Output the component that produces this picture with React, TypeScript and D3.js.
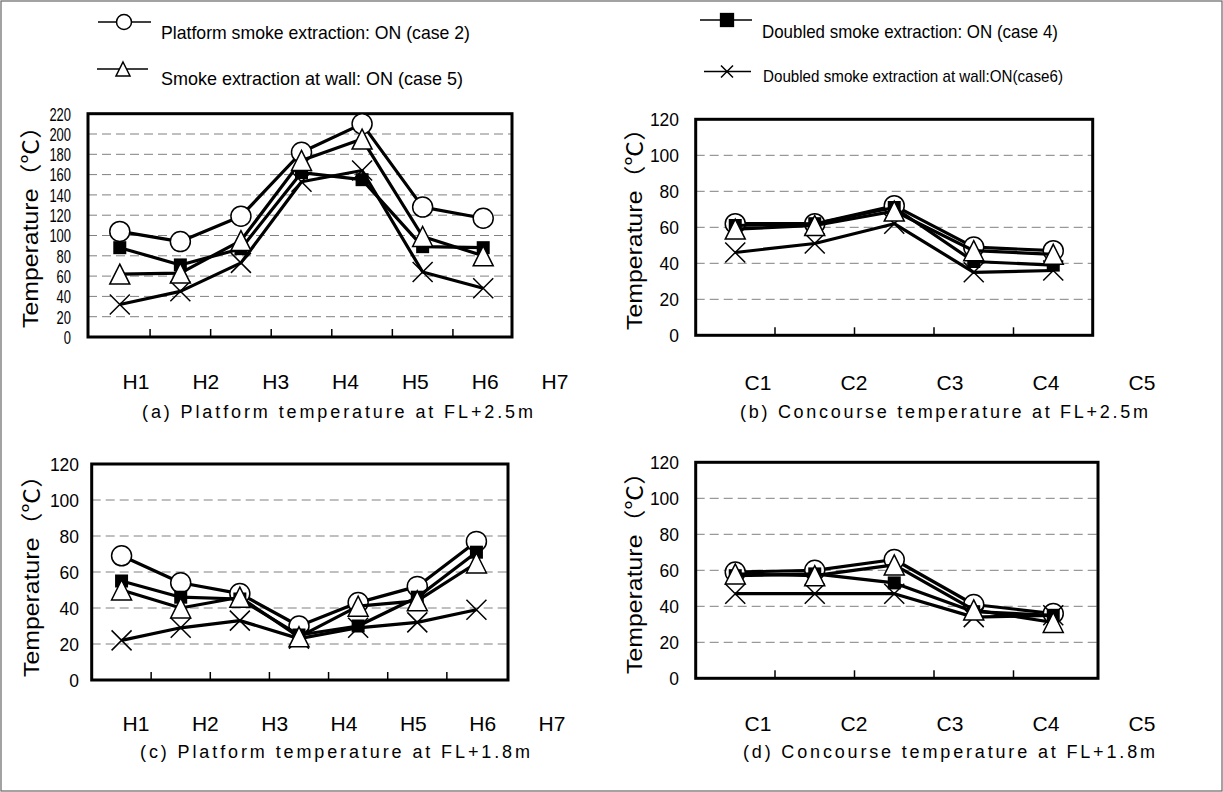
import React from "react";
import * as d3 from "d3";

// ---------- data ----------
const hCats = ["H1", "H2", "H3", "H4", "H5", "H6", "H7"];
const cCats = ["C1", "C2", "C3", "C4", "C5"];

const yTicksA = [0, 20, 40, 60, 80, 100, 120, 140, 160, 180, 200, 220];
const yTicksB = [0, 20, 40, 60, 80, 100, 120];

// (a) Platform temperature at FL+2.5m
const aCase2 = [104, 94, 119, 182, 210, 128, 117];
const aCase4 = [88, 71, 87, 162, 155, 89, 88];
const aCase5 = [62, 63, 95, 174, 195, 99, 80];
const aCase6 = [32, 45, 73, 153, 164, 64, 48];

// (b) Concourse temperature at FL+2.5m
const bCase2 = [62, 62, 72, 49, 47];
const bCase4 = [61, 62, 71, 41, 39];
const bCase5 = [59, 61, 69, 47, 45];
const bCase6 = [46, 51, 62, 35, 36];

// (c) Platform temperature at FL+1.8m
const cCase2 = [69, 54, 48, 30, 43, 52, 77];
const cCase4 = [55, 46, 45, 25, 30, 46, 71];
const cCase5 = [50, 40, 46, 24, 41, 44, 65];
const cCase6 = [22, 29, 33, 23, 29, 32, 39];

// (d) Concourse temperature at FL+1.8m
const dCase2 = [59, 60, 66, 41, 36];
const dCase4 = [57, 58, 53, 37, 35];
const dCase5 = [58, 57, 63, 38, 31];
const dCase6 = [47, 47, 47, 34, 35];

const captions = [
  "(a) Platform temperature at FL+2.5m",
  "(b) Concourse temperature at FL+2.5m",
  "(c) Platform temperature at FL+1.8m",
  "(d) Concourse temperature at FL+1.8m",
];

const legendLabels = [
  "Platform smoke extraction: ON (case 2)",
  "Smoke extraction at wall: ON (case 5)",
  "Doubled smoke extraction: ON (case 4)",
  "Doubled smoke extraction at wall:ON(case6)",
];

const yTitle = "Temperature（℃）";

// ---------- layout ----------
type Marker = "circle" | "square" | "triangle" | "cross";

interface PanelCfg {
  cats: string[];
  ticks: number[];
  series: { values: number[]; marker: Marker }[];
  x0: number;
  x1: number;
  boxL: number;
  boxR: number;
  yBottom: number;
  yTop: number;
  tickRight: number;
  tickW: number;
  titleX: number;
  titleY: number;
  labelX0: number;
  labelX1: number;
  labelBase: number;
  caption: string;
  capX0: number;
  capX1: number;
  capBase: number;
}

const FONT = "'Liberation Sans', Arial, 'Noto Sans CJK JP', sans-serif";

function seriesOf(c2: number[], c4: number[], c5: number[], c6: number[]) {
  return [
    { values: c2, marker: "circle" as Marker },
    { values: c4, marker: "square" as Marker },
    { values: c6, marker: "cross" as Marker },
    { values: c5, marker: "triangle" as Marker },
  ];
}

const panels: PanelCfg[] = [
  {
    cats: hCats, ticks: yTicksA, series: seriesOf(aCase2, aCase4, aCase5, aCase6),
    x0: 89.5, x1: 513.5, boxL: 88, boxR: 512, yBottom: 337, yTop: 113.7,
    tickRight: 71, tickW: 7.2, titleX: 30, titleY: 221,
    labelX0: 136, labelX1: 555, labelBase: 389,
    caption: captions[0], capX0: 142, capX1: 533, capBase: 418,
  },
  {
    cats: cCats, ticks: yTicksB, series: seriesOf(bCase2, bCase4, bCase5, bCase6),
    x0: 695.5, x1: 1093, boxL: 695.7, boxR: 1092.7, yBottom: 335.3, yTop: 119.3,
    tickRight: 679, tickW: 9.7, titleX: 634, titleY: 223,
    labelX0: 758, labelX1: 1142, labelBase: 390,
    caption: captions[1], capX0: 740, capX1: 1148, capBase: 418,
  },
  {
    cats: hCats, ticks: yTicksB, series: seriesOf(cCase2, cCase4, cCase5, cCase6),
    x0: 92, x1: 506, boxL: 91.7, boxR: 508, yBottom: 680, yTop: 464,
    tickRight: 79, tickW: 9.7, titleX: 31, titleY: 570,
    labelX0: 136, labelX1: 552, labelBase: 731,
    caption: captions[2], capX0: 140, capX1: 530, capBase: 758,
  },
  {
    cats: cCats, ticks: yTicksB, series: seriesOf(dCase2, dCase4, dCase5, dCase6),
    x0: 695.5, x1: 1093, boxL: 695.7, boxR: 1098, yBottom: 678.3, yTop: 462.3,
    tickRight: 679, tickW: 9.7, titleX: 634, titleY: 567,
    labelX0: 758, labelX1: 1142, labelBase: 731,
    caption: captions[3], capX0: 743, capX1: 1155, capBase: 758,
  },
];

function MarkerShape({ type, x, y, s }: { type: Marker; x: number; y: number; s: number }) {
  if (type === "circle") {
    return <circle cx={x} cy={y} r={s / 2} fill="#fff" stroke="#000" strokeWidth={1.5} />;
  }
  if (type === "square") {
    const w = s * 0.65;
    return <rect x={x - w / 2} y={y - w / 2} width={w} height={w} fill="#000" />;
  }
  if (type === "triangle") {
    const h = s;
    const w = s;
    const p = `${x},${y - h / 2} ${x + w / 2},${y + h / 2} ${x - w / 2},${y + h / 2}`;
    return <polygon points={p} fill="#fff" stroke="#000" strokeWidth={1.5} />;
  }
  const r = s / 2;
  return (
    <path
      d={`M${x - r},${y - r}L${x + r},${y + r}M${x - r},${y + r}L${x + r},${y - r}`}
      stroke="#000"
      strokeWidth={1.5}
      fill="none"
    />
  );
}

function Panel({ p }: { p: PanelCfg }) {
  const yMax = p.ticks[p.ticks.length - 1];
  const x = d3.scaleBand<string>().domain(p.cats).range([p.x0, p.x1]).padding(0);
  const y = d3.scaleLinear().domain([0, yMax]).range([p.yBottom, p.yTop]);
  const labelX = d3.scalePoint<string>().domain(p.cats).range([p.labelX0, p.labelX1]);
  const cx = (c: string) => (x(c) as number) + x.bandwidth() / 2;
  const line = d3
    .line<number>()
    .x((_, i) => cx(p.cats[i]))
    .y((v) => y(v));

  return (
    <g>
      {p.ticks
        .filter((t) => t > 0 && t < yMax)
        .map((t) => (
          <line
            key={"g" + t}
            x1={p.boxL}
            x2={p.boxR}
            y1={y(t)}
            y2={y(t)}
            stroke="#808080"
            strokeWidth={1}
            strokeDasharray="9,5"
          />
        ))}
      {p.cats.slice(1).map((c) => (
        <line
          key={"t" + c}
          x1={x(c) as number}
          x2={x(c) as number}
          y1={p.yBottom}
          y2={p.yBottom - 8}
          stroke="#000"
          strokeWidth={1.5}
        />
      ))}
      <rect
        x={p.boxL}
        y={p.yTop}
        width={p.boxR - p.boxL}
        height={p.yBottom - p.yTop}
        fill="none"
        stroke="#000"
        strokeWidth={3}
      />
      {p.ticks.map((t) => (
        <text
          key={"yl" + t}
          x={p.tickRight}
          y={y(t)}
          dy="0.36em"
          textAnchor="end"
          fontFamily={FONT}
          fontSize={19}
          textLength={String(t).length * p.tickW}
          lengthAdjust="spacingAndGlyphs"
        >
          {t}
        </text>
      ))}
      <text
        transform={`translate(${p.titleX},${p.titleY}) rotate(-90)`}
        textAnchor="middle"
        dy="0.36em"
        fontFamily={FONT}
        fontSize={22}
        textLength={214}
        lengthAdjust="spacingAndGlyphs"
      >
        {yTitle}
      </text>
      {p.series.map((s, si) => (
        <g key={"s" + si}>
          <path d={line(s.values) || ""} fill="none" stroke="#000" strokeWidth={3.2} strokeLinejoin="round" />
          {s.values.map((v, i) => (
            <MarkerShape key={i} type={s.marker} x={cx(p.cats[i])} y={y(v)} s={20} />
          ))}
        </g>
      ))}
      {p.cats.map((c) => (
        <text
          key={"xl" + c}
          x={labelX(c) as number}
          y={p.labelBase}
          textAnchor="middle"
          fontFamily={FONT}
          fontSize={21}
        >
          {c}
        </text>
      ))}
      <text
        x={p.capX0}
        y={p.capBase}
        fontFamily={FONT}
        fontSize={18}
        textLength={p.capX1 - p.capX0}
        lengthAdjust="spacing"
      >
        {p.caption}
      </text>
    </g>
  );
}

function Legend() {
  const items = [
    { marker: "circle" as Marker, lx0: 98, lx1: 151, mx: 124, my: 22, s: 15, text: legendLabels[0], tx: 161, tx1: 470, tb: 39, fs: 19 },
    { marker: "triangle" as Marker, lx0: 97, lx1: 148, mx: 123, my: 69, s: 14, text: legendLabels[1], tx: 161, tx1: 463, tb: 85, fs: 19 },
    { marker: "square" as Marker, lx0: 700, lx1: 752, mx: 727, my: 20, s: 22, text: legendLabels[2], tx: 762, tx1: 1058, tb: 38, fs: 19 },
    { marker: "cross" as Marker, lx0: 704, lx1: 751, mx: 727, my: 71.5, s: 12, text: legendLabels[3], tx: 763, tx1: 1063, tb: 82, fs: 17 },
  ];
  return (
    <g>
      {items.map((it, i) => (
        <g key={i}>
          <line x1={it.lx0} x2={it.lx1} y1={it.my} y2={it.my} stroke="#000" strokeWidth={1.5} />
          <MarkerShape type={it.marker} x={it.mx} y={it.my} s={it.s} />
          <text
            x={it.tx}
            y={it.tb}
            fontFamily={FONT}
            fontSize={it.fs}
            textLength={it.tx1 - it.tx}
            lengthAdjust="spacingAndGlyphs"
          >
            {it.text}
          </text>
        </g>
      ))}
    </g>
  );
}

export default function App() {
  return (
    <svg
      width={1223}
      height={792}
      viewBox="0 0 1223 792"
      style={{ position: "absolute", left: 0, top: 0, background: "#fff" }}
    >
      <rect x={0} y={0} width={1223} height={792} fill="#fff" />
      <rect x={1} y={1} width={1221} height={790} fill="none" stroke="#666" strokeWidth={1.2} />
      <Legend />
      {panels.map((p, i) => (
        <Panel key={i} p={p} />
      ))}
    </svg>
  );
}
